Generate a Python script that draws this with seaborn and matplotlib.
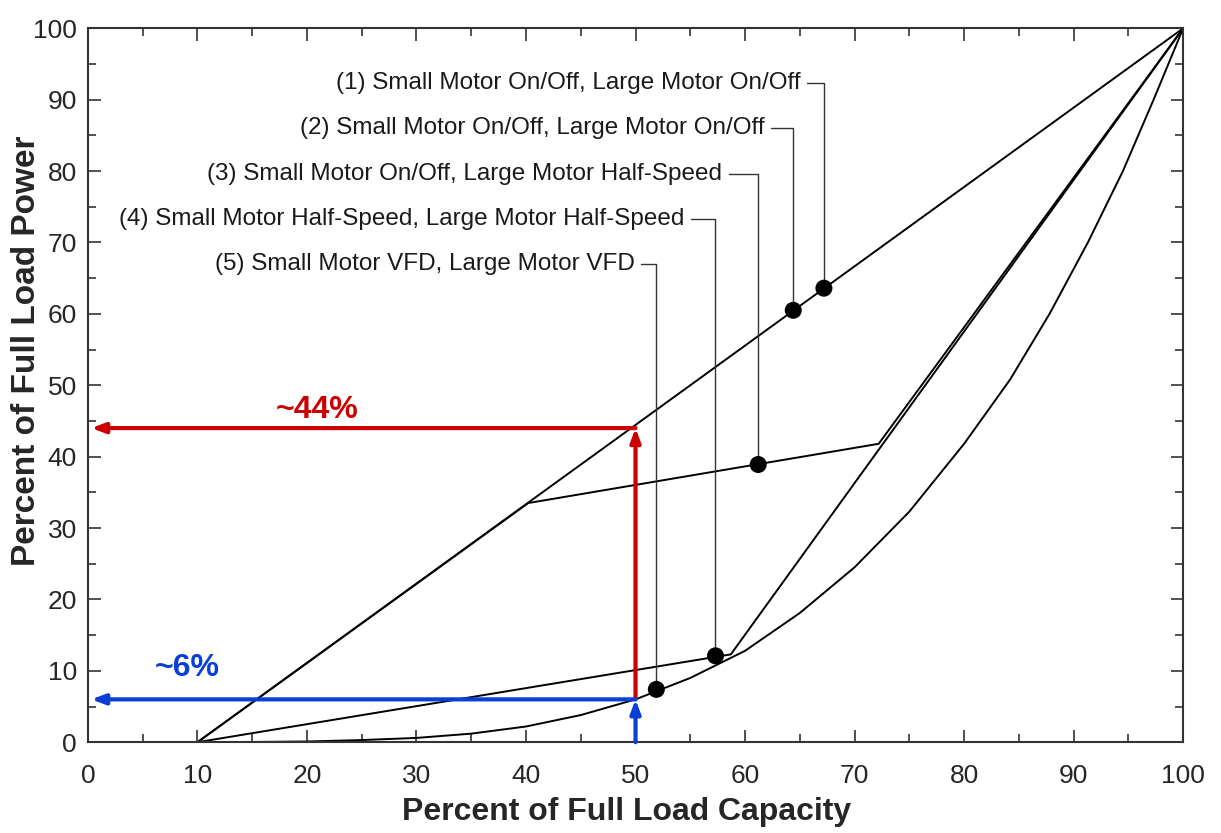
import numpy as np
import pandas as pd
import seaborn as sns
import matplotlib.pyplot as plt
from matplotlib.ticker import MultipleLocator

# curves (percent capacity -> percent power)
onoff_x = [10, 100]
onoff_y = [0, 100]

half_on_x = [10, 40.2, 72.2, 100]
half_on_y = [0, 33.5, 41.8, 100]

half_half_x = [10, 58.7, 100]
half_half_y = [0, 12.3, 100]

vfd_x = [10, 15, 20, 25, 30, 35, 40, 45, 50, 55, 60, 65, 70, 75, 80, 84.2, 87.8, 91.3, 94.5, 97.3, 100]
vfd_y = [0, 0.03, 0.1, 0.3, 0.6, 1.2, 2.2, 3.8, 6.0, 9.0, 12.8, 18.1, 24.5, 32.3, 41.8, 50.8, 60, 70, 80, 90, 100]

# labelled points and their leaders
labels = ["(1) Small Motor On/Off, Large Motor On/Off",
          "(2) Small Motor On/Off, Large Motor On/Off",
          "(3) Small Motor On/Off, Large Motor Half-Speed",
          "(4) Small Motor Half-Speed, Large Motor Half-Speed",
          "(5) Small Motor VFD, Large Motor VFD"]
dot_x = [67.2, 64.4, 61.2, 57.3, 51.9]
dot_y = [63.6, 60.5, 38.9, 12.1, 7.4]
label_y = [92.3, 86.1, 79.6, 73.3, 67.0]
label_end = [65.1, 61.8, 57.9, 54.5, 49.9]

big_x, big_y = 50, 44
small_x, small_y = 50, 6

sns.set_style('ticks')
plt.rcParams['font.family'] = ['Liberation Sans', 'DejaVu Sans']

fig = plt.figure(figsize=(12.21, 8.33), dpi=100)
ax = fig.add_axes([0.072, 0.109, 0.897, 0.857])

for xs, ys in [(onoff_x, onoff_y), (half_on_x, half_on_y),
               (half_half_x, half_half_y), (vfd_x, vfd_y)]:
    sns.lineplot(x=xs, y=ys, ax=ax, color='black', lw=1.4, sort=False)

# leaders
for lab, dx, dy, ly, le in zip(labels, dot_x, dot_y, label_y, label_end):
    ax.text(le, ly, lab, ha='right', va='center', fontsize=17.5, color='#1a1a1a')
    ax.plot([le + 0.6, dx, dx], [ly, ly, dy], color='#333333', lw=1.0)

sns.scatterplot(x=dot_x, y=dot_y, ax=ax, color='black', s=150, edgecolor='none', zorder=5)

red = '#cc0000'
blue = '#0a3fd6'
akw = dict(arrowstyle='-|>,head_length=0.8,head_width=0.3', lw=3, shrinkA=0, shrinkB=0)
ax.annotate('', xy=(big_x, big_y), xytext=(big_x, small_y),
            arrowprops=dict(color=red, **akw), zorder=6)
ax.annotate('', xy=(0.3, big_y), xytext=(big_x, big_y),
            arrowprops=dict(color=red, **akw), zorder=6)
ax.annotate('', xy=(small_x, small_y), xytext=(small_x, 0),
            arrowprops=dict(color=blue, **akw), zorder=6)
ax.annotate('', xy=(0.3, small_y), xytext=(small_x, small_y),
            arrowprops=dict(color=blue, **akw), zorder=6)
ax.text(20.9, 46.6, '~44%', color=red, fontsize=23, fontweight='bold', ha='center', va='center')
ax.text(9.1, 10.4, '~6%', color=blue, fontsize=23, fontweight='bold', ha='center', va='center')

ax.set_xlim(0, 100)
ax.set_ylim(0, 100)
ax.xaxis.set_major_locator(MultipleLocator(10))
ax.yaxis.set_major_locator(MultipleLocator(10))
ax.xaxis.set_minor_locator(MultipleLocator(5))
ax.yaxis.set_minor_locator(MultipleLocator(5))
ax.tick_params(which='both', direction='in', top=True, right=True, width=1.2, color='#333333')
ax.tick_params(which='major', length=9, labelsize=19, pad=8)
ax.tick_params(axis='x', which='major', pad=16)
ax.tick_params(which='minor', length=5.5)
for s in ax.spines.values():
    s.set_linewidth(1.5)
    s.set_color('#333333')

ax.set_xlabel('Percent of Full Load Capacity', fontsize=23, fontweight='bold', va='center')
ax.set_ylabel('Percent of Full Load Power', fontsize=24, fontweight='bold', va='center')
ax.xaxis.set_label_coords(0.492, -0.098)
ax.yaxis.set_label_coords(-0.0557, 0.548)

fig.savefig('out.png', dpi=100)
